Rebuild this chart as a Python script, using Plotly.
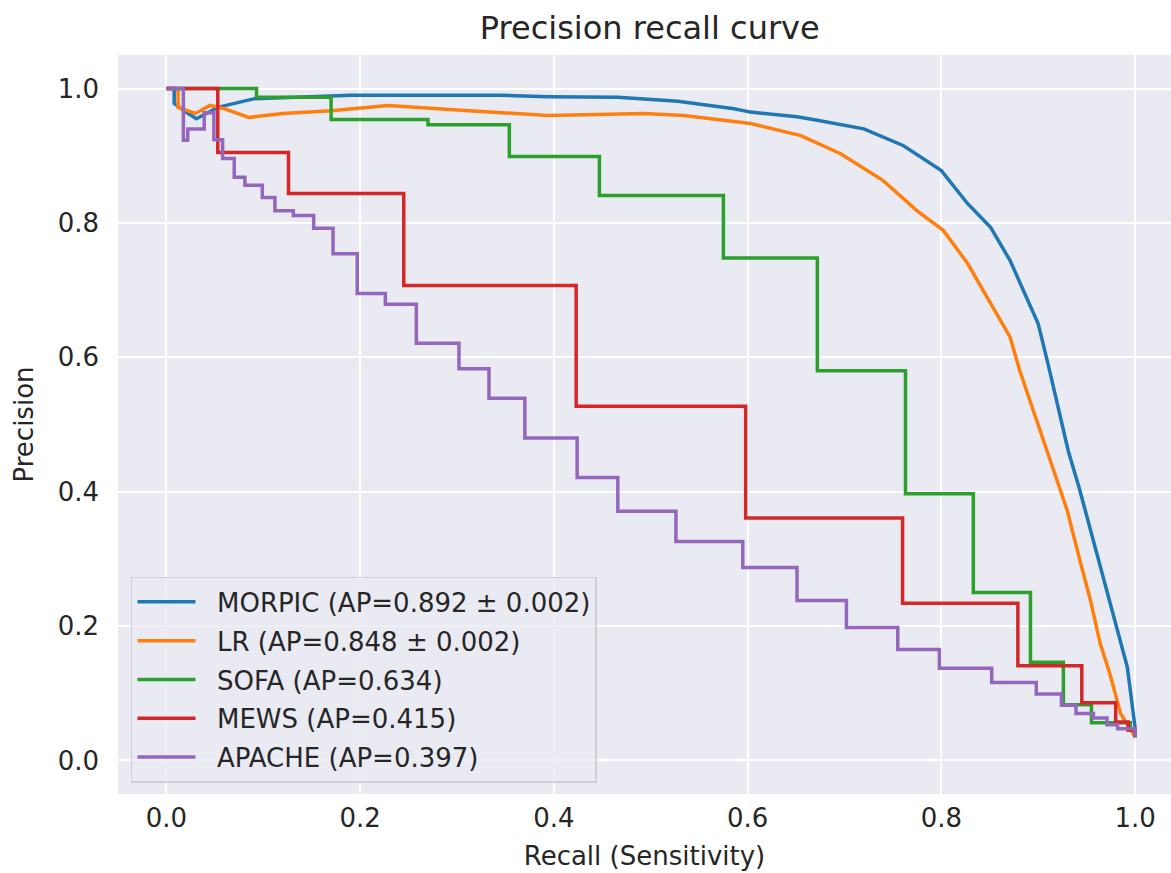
import plotly.graph_objects as go

# ---- precision / recall data -------------------------------------------
# Smooth model curves (recall, precision)
morpic_recall = [0.0, 0.008, 0.008, 0.02, 0.031, 0.053, 0.091, 0.19, 0.294, 0.345, 0.394,
                 0.466, 0.528, 0.586, 0.603, 0.651, 0.672, 0.72, 0.761, 0.80, 0.827, 0.851,
                 0.871, 0.888, 0.90, 0.910, 0.931, 0.943, 0.957, 0.969, 0.981, 0.992, 1.0]
morpic_precision = [1.0, 1.0, 0.978, 0.965, 0.955, 0.972, 0.985, 0.990, 0.990, 0.990, 0.988,
                    0.987, 0.981, 0.970, 0.965, 0.958, 0.953, 0.940, 0.915, 0.878, 0.829, 0.793,
                    0.744, 0.689, 0.650, 0.591, 0.461, 0.402, 0.327, 0.263, 0.198, 0.139, 0.049]

lr_recall = [0.0, 0.012, 0.012, 0.03, 0.045, 0.06, 0.085, 0.12, 0.17, 0.229, 0.30, 0.394,
             0.493, 0.534, 0.603, 0.655, 0.696, 0.740, 0.775, 0.802, 0.827, 0.851, 0.871,
             0.881, 0.909, 0.930, 0.943, 0.954, 0.964, 0.974, 0.985, 1.0]
lr_precision = [1.0, 1.0, 0.972, 0.963, 0.975, 0.970, 0.957, 0.963, 0.967, 0.975, 0.968, 0.960,
                0.963, 0.960, 0.948, 0.930, 0.903, 0.863, 0.818, 0.789, 0.740, 0.680, 0.630,
                0.580, 0.461, 0.372, 0.298, 0.238, 0.174, 0.129, 0.070, 0.035]

# Step curves of the clinical scores: recall at each drop, precision after it
sofa_recall = [0.0, 0.093, 0.170, 0.270, 0.354, 0.447, 0.575, 0.672, 0.763, 0.833,
               0.892, 0.926, 0.955, 0.995, 1.0]
sofa_precision = [1.0, 0.987, 0.954, 0.946, 0.899, 0.841, 0.748, 0.580, 0.397, 0.250,
                  0.146, 0.083, 0.056, 0.045, 0.035]

mews_recall = [0.0, 0.053, 0.126, 0.245, 0.423, 0.598, 0.760, 0.879, 0.945, 0.980, 0.993, 1.0]
mews_precision = [1.0, 0.905, 0.844, 0.707, 0.527, 0.361, 0.234, 0.141, 0.086, 0.057,
                  0.045, 0.034]

apache_recall = [0.0, 0.0175, 0.022, 0.039, 0.049, 0.058, 0.070, 0.081, 0.099, 0.112, 0.131,
                 0.152, 0.172, 0.197, 0.226, 0.258, 0.302, 0.333, 0.370, 0.424, 0.466,
                 0.526, 0.595, 0.651, 0.702, 0.755, 0.798, 0.852, 0.898, 0.924, 0.939,
                 0.957, 0.971, 0.982, 1.0]
apache_precision = [1.0, 0.923, 0.940, 0.964, 0.924, 0.896, 0.868, 0.856, 0.838, 0.818, 0.811,
                    0.792, 0.754, 0.695, 0.679, 0.621, 0.583, 0.539, 0.480, 0.421, 0.371,
                    0.326, 0.287, 0.238, 0.198, 0.165, 0.137, 0.116, 0.099, 0.082, 0.070,
                    0.063, 0.053, 0.047, 0.034]

labels = [
    "MORPIC (AP=0.892 ± 0.002)",
    "LR (AP=0.848 ± 0.002)",
    "SOFA (AP=0.634)",
    "MEWS (AP=0.415)",
    "APACHE (AP=0.397)",
]
colors = ["#1f77b4", "#ff7f0e", "#2ca02c", "#d62728", "#9467bd"]
tick_vals = [0.0, 0.2, 0.4, 0.6, 0.8, 1.0]
tick_text = ["0.0", "0.2", "0.4", "0.6", "0.8", "1.0"]

series = [
    (morpic_recall, morpic_precision, "linear"),
    (lr_recall, lr_precision, "linear"),
    (sofa_recall, sofa_precision, "hv"),
    (mews_recall, mews_precision, "hv"),
    (apache_recall, apache_precision, "hv"),
]

FONT = "DejaVu Sans"
TXT = "#262626"
PAD = "\u00a0\u00a0"  # gap between the legend line sample and its label

fig = go.Figure()
for i, ((rx, py, shape), name, col) in enumerate(zip(series, labels, colors)):
    fig.add_trace(go.Scatter(
        x=rx, y=py, mode="lines", name=PAD + name, legendgroup=f"g{i}",
        line=dict(color=col, width=3.5, shape=shape),
    ))

axis_common = dict(
    showgrid=True, gridcolor="white", gridwidth=2,
    zeroline=False, showline=False, ticks="",
    tickvals=tick_vals, ticktext=tick_text,
    tickfont=dict(family=FONT, size=26, color=TXT),
)

fig.update_layout(
    width=1171, height=873,
    margin=dict(l=118, r=0, t=55, b=79),
    paper_bgcolor="white", plot_bgcolor="#eaeaf2",
    font=dict(family=FONT, color=TXT),
    title=dict(text="Precision recall curve", x=0.505, xref="paper", xanchor="center",
               y=1 - 28 / 873, yref="container", yanchor="middle",
               font=dict(family=FONT, size=32, color=TXT)),
    xaxis=dict(range=[-0.05, 1.0371], ticklabelstandoff=6,
               title=dict(text="Recall (Sensitivity)", standoff=14,
                          font=dict(family=FONT, size=26, color=TXT)),
               **axis_common),
    yaxis=dict(range=[-0.05, 1.05], ticklabelstandoff=18,
               title=dict(text="Precision", standoff=16,
                          font=dict(family=FONT, size=26, color=TXT)),
               **axis_common),
    legend=dict(x=0.0123, y=0.2937, xanchor="left", yanchor="top",
                bgcolor="rgba(234,234,242,0.8)", bordercolor="#cfcfd6", borderwidth=1.5,
                font=dict(family=FONT, size=26, color=TXT),
                tracegroupgap=2, itemwidth=58),
    showlegend=True,
)

fig.write_html("out.html")
